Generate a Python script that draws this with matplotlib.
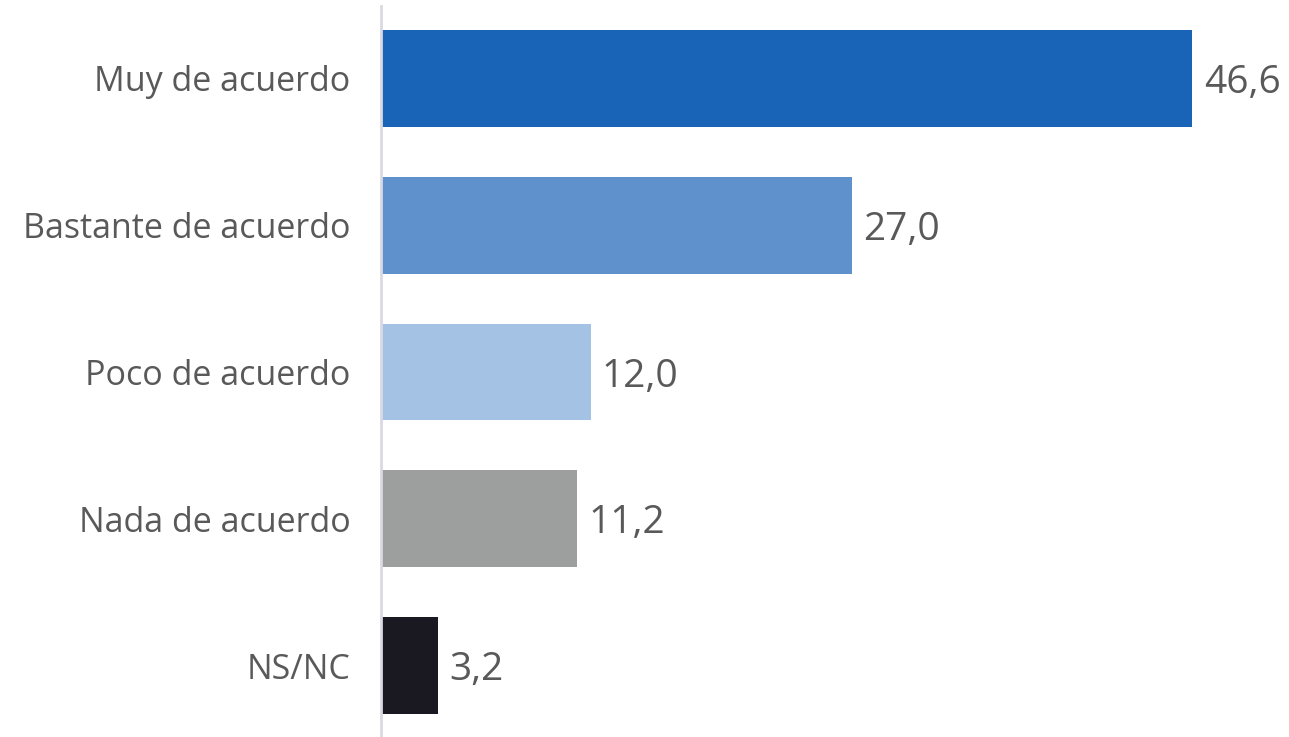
import matplotlib
matplotlib.use("Agg")
import matplotlib.pyplot as plt

categories = ["Muy de acuerdo", "Bastante de acuerdo", "Poco de acuerdo", "Nada de acuerdo", "NS/NC"]
values = [46.6, 27.0, 12.0, 11.2, 3.2]
value_labels = ["46,6", "27,0", "12,0", "11,2", "3,2"]
colors = ["#1a64b7", "#5f92cd", "#a4c2e4", "#9d9e9e", "#1a1820"]

plt.rcParams["font.family"] = ["Open Sans", "DejaVu Sans"]

fig = plt.figure(figsize=(12.89, 7.37), dpi=100)
ax = fig.add_axes([381 / 1289, 0, 1 - 381 / 1289, 1 - 6 / 737])

ypos = range(len(categories))
ax.barh(ypos, values, height=0.66, color=colors, left=0.05)

for y, v, lab in zip(ypos, values, value_labels):
    ax.text(v + 0.7, y, lab, va="center_baseline", ha="left", fontsize=28, color="#595959")

ax.set_xlim(0, 52.2)
ax.set_ylim(4.486, -0.493)
ax.set_yticks(list(ypos))
ax.set_yticklabels(categories, fontsize=24.5, color="#595959")
ax.tick_params(axis="y", length=0, pad=22)
ax.set_xticks([])

for s in ["top", "right", "bottom"]:
    ax.spines[s].set_visible(False)
ax.spines["left"].set_color("#d9d9e3")
ax.spines["left"].set_linewidth(2)

fig.savefig("out.png", dpi=100)
